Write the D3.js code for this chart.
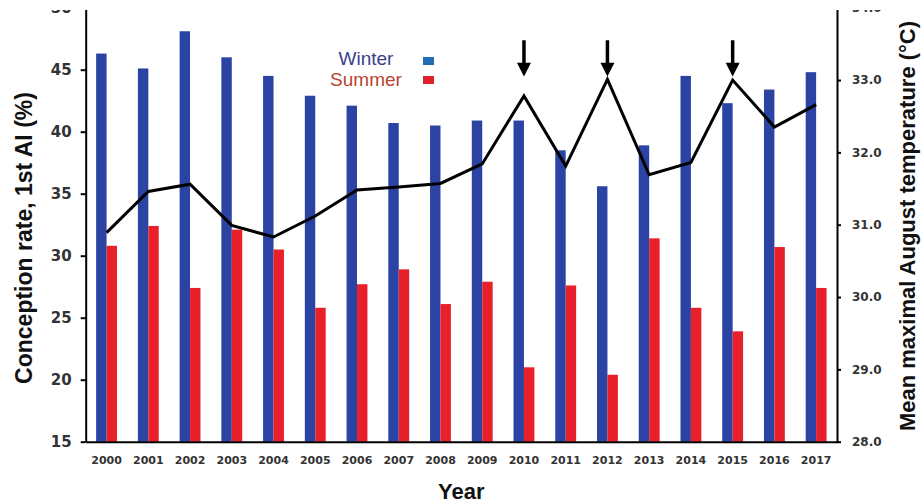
<!DOCTYPE html>
<html lang="en">
<head>
  <meta charset="UTF-8">
  <title>Conception rate by year</title>
  <script src="https://d3js.org/d3.v7.min.js"></script>
  <style>
    body { margin: 0; background: #fff; }
    svg { display: block; }
    .tick text { font-family: "DejaVu Sans", Verdana, sans-serif; font-weight: bold; fill: #333; }
    .title { font-family: "Liberation Sans", Arial, sans-serif; font-weight: bold; fill: #111; }
  </style>
</head>
<body>
<div id="chart"></div>
<script>
  // values
  const years = ["2000", "2001", "2002", "2003", "2004", "2005", "2006", "2007", "2008",
                 "2009", "2010", "2011", "2012", "2013", "2014", "2015", "2016", "2017"];
  const winter = [46.3, 45.1, 48.1, 46.0, 44.5, 42.9, 42.1, 40.7, 40.5,
                  40.9, 40.9, 38.5, 35.6, 38.9, 44.5, 42.3, 43.4, 44.8];
  const summer = [30.8, 32.4, 27.4, 32.1, 30.5, 25.8, 27.7, 28.9, 26.1,
                  27.9, 21.0, 27.6, 20.4, 31.4, 25.8, 23.9, 30.7, 27.4];
  const temperature = [30.89, 31.46, 31.56, 30.99, 30.83, 31.12, 31.48, 31.52, 31.57,
                       31.84, 32.78, 31.81, 33.01, 31.69, 31.86, 33.0, 32.35, 32.66];
  const arrowYears = ["2010", "2012", "2015"];
  const leftTicks = [15, 20, 25, 30, 35, 40, 45, 50];
  const rightTicks = [28, 29, 30, 31, 32, 33, 34];
  const series = ["Winter", "Summer"];

  const width = 923, height = 504;
  const margin = {top: 7.7, right: 86, bottom: 62.3, left: 85.7};

  const svg = d3.select("#chart").append("svg")
    .attr("width", width)
    .attr("height", height);

  svg.append("clipPath").attr("id", "crop")
    .append("rect").attr("x", 0).attr("y", 10).attr("width", width).attr("height", height - 10);

  const g = svg.append("g").attr("clip-path", "url(#crop)");

  const x = d3.scaleBand()
    .domain(years)
    .range([margin.left, width - margin.right])
    .paddingInner(0.5)
    .paddingOuter(0.25);

  const x1 = d3.scaleBand()
    .domain(series)
    .range([0, x.bandwidth()]);

  const yL = d3.scaleLinear()
    .domain([15, 50])
    .range([height - margin.bottom, margin.top]);

  const yR = d3.scaleLinear()
    .domain([28, 34])
    .range([height - margin.bottom, margin.top]);

  const color = d3.scaleOrdinal().domain(series).range(["#2b43a3", "#e8202a"]);

  const rows = years.map((yr, i) => ({year: yr, Winter: winter[i], Summer: summer[i], temp: temperature[i]}));

  // bars
  g.append("g")
    .selectAll("g")
    .data(rows)
    .join("g")
    .attr("transform", d => `translate(${x(d.year)},0)`)
    .selectAll("rect")
    .data(d => series.map(s => ({key: s, value: d[s]})))
    .join("rect")
    .attr("x", d => x1(d.key))
    .attr("width", x1.bandwidth())
    .attr("y", d => yL(d.value))
    .attr("height", d => yL(15) - yL(d.value))
    .attr("fill", d => color(d.key));

  // axes
  const axL = g.append("g")
    .attr("transform", `translate(${margin.left},0)`)
    .call(d3.axisLeft(yL).tickValues(leftTicks).tickSize(5).tickSizeOuter(0).tickPadding(9));
  axL.selectAll("text").style("font-size", "15px");

  const axR = g.append("g")
    .attr("transform", `translate(${width - margin.right},0)`)
    .call(d3.axisRight(yR).tickValues(rightTicks).tickFormat(d3.format(".1f"))
      .tickSize(4).tickSizeOuter(0).tickPadding(11));
  axR.selectAll("text").style("font-size", "12px");

  const axB = g.append("g")
    .attr("transform", `translate(0,${height - margin.bottom})`)
    .call(d3.axisBottom(x).tickSize(0).tickPadding(15));
  axB.selectAll("text").style("font-size", "11px");

  [axL, axR, axB].forEach(a => {
    a.select(".domain").attr("stroke", "#000").attr("stroke-width", 2);
    a.selectAll(".tick line").attr("stroke", "#000").attr("stroke-width", 2);
  });

  // temperature line
  const line = d3.line()
    .x(d => x(d.year) + x.bandwidth() / 2)
    .y(d => yR(d.temp));

  g.append("path")
    .datum(rows)
    .attr("fill", "none")
    .attr("stroke", "#000")
    .attr("stroke-width", 3)
    .attr("stroke-linejoin", "miter")
    .attr("d", line);

  // arrows over the hottest years
  const arrows = g.append("g").selectAll("g")
    .data(arrowYears)
    .join("g")
    .attr("transform", d => `translate(${x(d) + x.bandwidth() / 2},0)`);

  arrows.append("line")
    .attr("y1", yR(33.55))
    .attr("y2", yR(33.2))
    .attr("stroke", "#000")
    .attr("stroke-width", 3.5);

  arrows.append("path")
    .attr("d", `M-7,${yR(33.24)}L7,${yR(33.24)}L0,${yR(33.05)}Z`)
    .attr("fill", "#000");

  // legend
  const legend = g.append("g").attr("transform", "translate(366,65)");
  const legendText = ["#3b3e8c", "#b8452f"];
  const legendBox = ["#1f6db3", "#e0202a"];
  series.forEach((s, i) => {
    legend.append("text")
      .attr("y", i * 21)
      .attr("text-anchor", "middle")
      .style("font-family", "Liberation Sans, Arial, sans-serif")
      .style("font-size", "19px")
      .attr("fill", legendText[i])
      .text(s);
    legend.append("rect")
      .attr("x", 57)
      .attr("y", i * 19 - 8)
      .attr("width", 11)
      .attr("height", 8)
      .attr("fill", legendBox[i]);
  });

  // titles
  svg.append("text")
    .attr("class", "title")
    .attr("transform", "translate(32,238) rotate(-90)")
    .attr("text-anchor", "middle")
    .style("font-size", "23px")
    .text("Conception rate, 1st AI (%)");

  svg.append("text")
    .attr("class", "title")
    .attr("transform", "translate(915,226) rotate(-90)")
    .attr("text-anchor", "middle")
    .style("font-size", "22px")
    .text("Mean maximal August temperature (°C)");

  svg.append("text")
    .attr("class", "title")
    .attr("x", (margin.left + width - margin.right) / 2)
    .attr("y", 499)
    .attr("text-anchor", "middle")
    .style("font-size", "22px")
    .text("Year");
</script>
</body>
</html>
